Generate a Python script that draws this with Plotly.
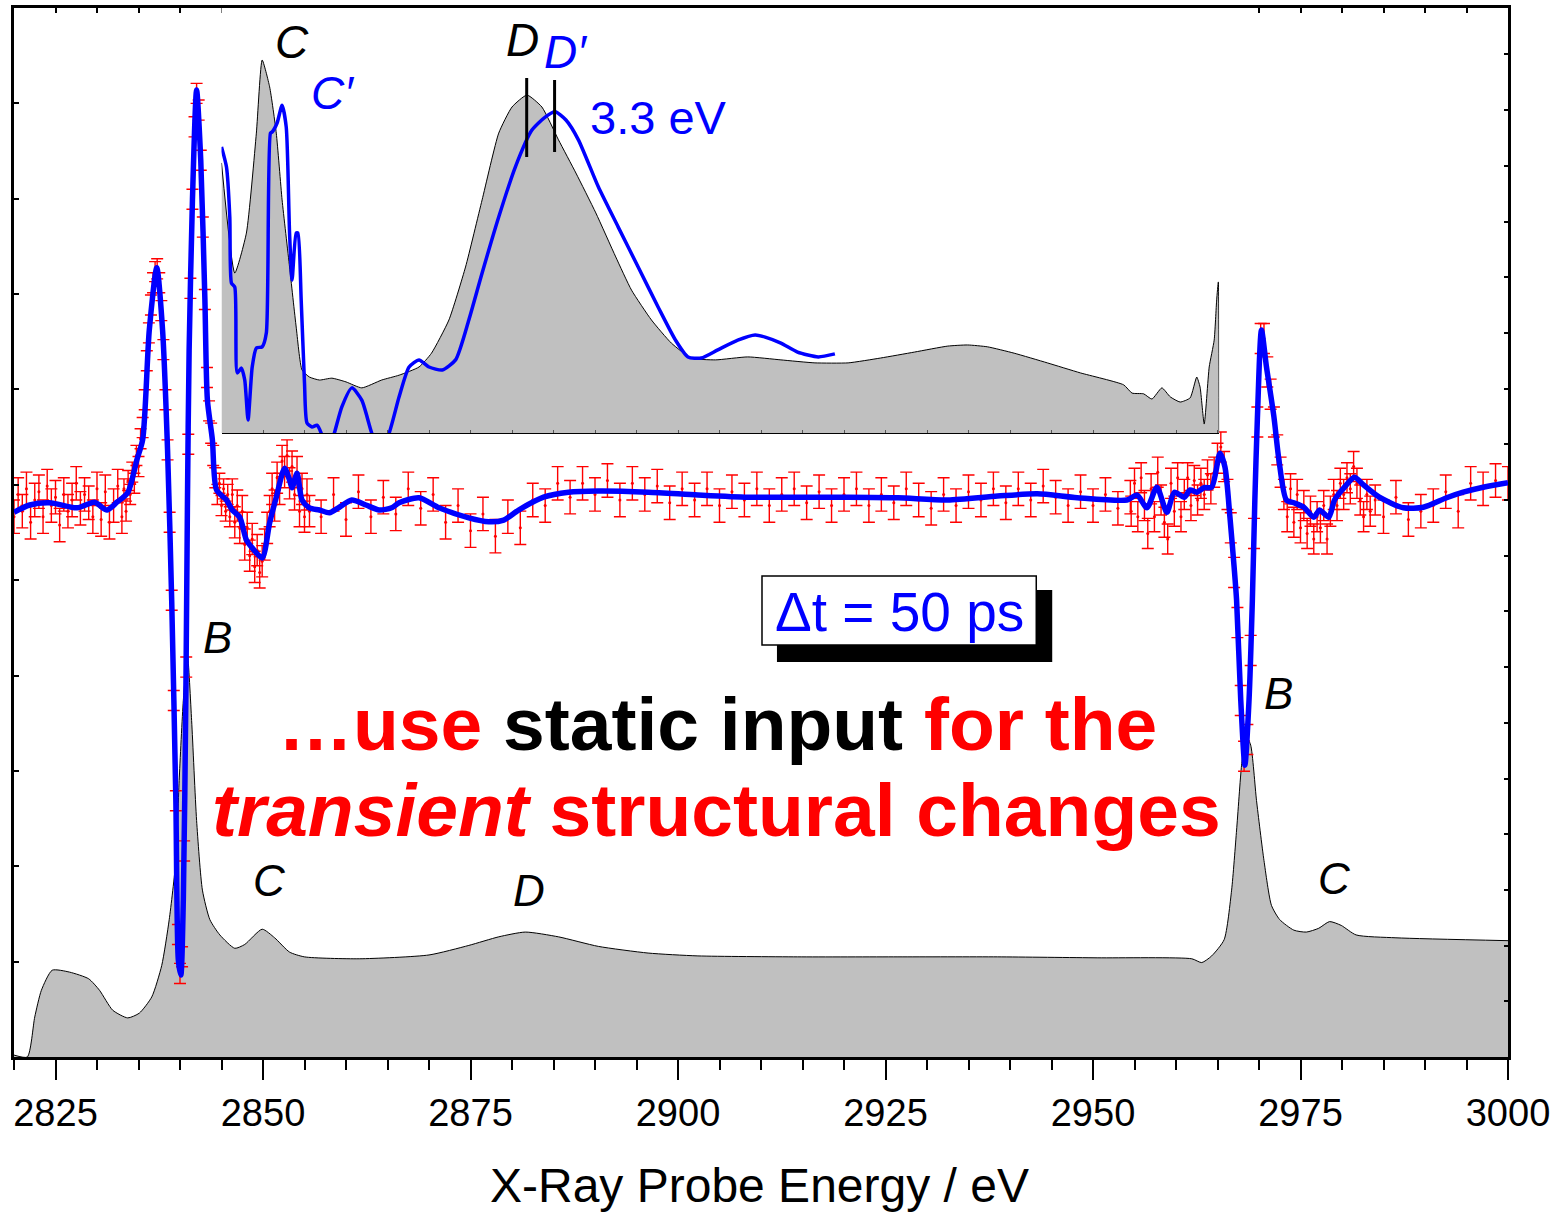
import plotly.graph_objects as go

# ---------------- data ----------------
# static spectrum (main axis, arb. units)
static_E = [2820.0, 2821.6, 2822.5, 2823.3, 2824.6, 2826.7, 2829.0, 2830.3, 2831.9, 2833.7,
            2835.1, 2836.6, 2837.8, 2838.7, 2839.5, 2839.9, 2840.4, 2840.9, 2841.4, 2842.0,
            2842.7, 2843.6, 2844.8, 2846.6, 2847.8, 2849.9, 2851.4, 2853.2, 2855.0, 2861.6,
            2870.0, 2874.8, 2878.4, 2881.6, 2885.6, 2890.4, 2896.4, 2902.4, 2914.4, 2926.5,
            2938.5, 2950.5, 2961.9, 2963.1, 2964.3, 2965.8, 2966.7, 2967.3, 2967.9, 2968.4,
            2969.0, 2969.7, 2970.6, 2971.5, 2972.5, 2974.2, 2975.7, 2977.2, 2978.5, 2979.9,
            2981.7, 2986.5, 3000.0]
static_I = [0.02, 0.0, 0.42, 0.70, 0.91, 0.89, 0.82, 0.70, 0.49, 0.41,
            0.46, 0.63, 0.96, 1.44, 2.06, 2.90, 3.74, 4.21, 3.53, 2.48,
            1.75, 1.44, 1.28, 1.14, 1.18, 1.34, 1.25, 1.10, 1.05, 1.03,
            1.07, 1.17, 1.26, 1.31, 1.26, 1.16, 1.09, 1.06, 1.05, 1.05,
            1.05, 1.04, 1.03, 0.99, 1.06, 1.23, 1.75, 2.38, 3.06, 3.38,
            3.27, 2.69, 2.06, 1.59, 1.44, 1.33, 1.31, 1.35, 1.42, 1.38,
            1.28, 1.25, 1.22]

# inset: magnified static spectrum (ground state)
inset_E = [2845.0, 2846.6, 2848.0, 2849.2, 2849.9, 2850.8, 2851.6, 2852.3, 2853.2, 2854.0,
           2854.7, 2855.6, 2856.8, 2858.3, 2860.0, 2861.9, 2864.3, 2866.4, 2868.8, 2870.3,
           2872.4, 2874.4, 2876.4, 2878.4, 2880.0, 2881.8, 2883.6, 2885.6, 2887.7, 2890.1,
           2892.5, 2894.4, 2896.8, 2899.2, 2901.6, 2904.5, 2908.4, 2912.4, 2916.5, 2920.5,
           2924.4, 2928.5, 2932.5, 2934.9, 2937.3, 2940.5, 2944.5, 2948.5, 2953.7, 2954.7,
           2956.1, 2957.1, 2958.3, 2959.3, 2960.5, 2961.7, 2962.5, 2962.9, 2963.4, 2964.0,
           2964.6, 2964.9, 2965.1, 2965.2]
inset_I = [0.724, 0.429, 0.536, 0.804, 1.000, 0.928, 0.804, 0.625, 0.445, 0.284,
           0.169, 0.150, 0.142, 0.147, 0.137, 0.121, 0.142, 0.155, 0.177, 0.214,
           0.303, 0.445, 0.625, 0.804, 0.874, 0.906, 0.874, 0.786, 0.697, 0.590,
           0.472, 0.383, 0.303, 0.241, 0.201, 0.196, 0.204, 0.196, 0.188, 0.188,
           0.201, 0.217, 0.233, 0.236, 0.231, 0.214, 0.188, 0.161, 0.129, 0.107,
           0.105, 0.091, 0.121, 0.097, 0.083, 0.094, 0.150, 0.123, 0.024, 0.177,
           0.249, 0.357, 0.405, 0.0]

# inset: excited-state spectrum (C', D')
excited_E = [2845.0, 2845.6, 2846.0, 2846.2, 2846.6, 2846.9, 2847.4, 2847.8, 2848.2, 2848.7,
             2849.2, 2849.9, 2850.4, 2850.9, 2851.1, 2851.7, 2852.3, 2852.8, 2853.2, 2853.5,
             2854.0, 2854.2, 2854.6, 2855.0, 2855.3, 2855.9, 2856.5, 2857.0, 2857.7, 2858.6,
             2859.5, 2860.7, 2861.9, 2863.1, 2864.1, 2865.2, 2866.4, 2867.6, 2868.8, 2870.0,
             2871.6, 2873.2, 2874.8, 2876.4, 2878.4, 2880.4, 2882.4, 2884.0, 2885.2, 2886.5,
             2888.0, 2890.4, 2892.8, 2895.2, 2897.6, 2899.7, 2901.2, 2902.8, 2904.8, 2907.2,
             2909.3, 2910.5, 2912.4, 2914.4, 2916.9, 2918.9]
excited_I = [0.767, 0.713, 0.579, 0.402, 0.391, 0.161, 0.174, 0.142, 0.035, 0.177,
             0.228, 0.231, 0.268, 0.804, 0.807, 0.831, 0.879, 0.820, 0.536, 0.410,
             0.536, 0.536, 0.357, 0.134, 0.027, 0.016, 0.021, 0.0, -0.06, 0.0,
             0.070, 0.121, 0.088, 0.0, -0.05, 0.0, 0.097, 0.177, 0.196, 0.177,
             0.169, 0.196, 0.303, 0.429, 0.579, 0.713, 0.812, 0.847, 0.861, 0.839,
             0.786, 0.660, 0.552, 0.445, 0.338, 0.249, 0.204, 0.201, 0.223, 0.249,
             0.263, 0.257, 0.241, 0.217, 0.204, 0.212]

# transient difference spectrum, fit (right axis)
fit_E = [2820.0, 2821.9, 2824.3, 2827.6, 2829.7, 2831.2, 2832.4, 2833.7, 2834.8, 2835.5,
         2836.3, 2837.2, 2837.9, 2838.5, 2839.0, 2839.5, 2839.8, 2840.1, 2840.4, 2840.7,
         2840.9, 2841.1, 2841.5, 2842.0, 2842.5, 2843.0, 2843.3, 2843.9, 2844.4, 2845.6,
         2846.3, 2847.2, 2848.0, 2848.7, 2849.9, 2850.8, 2851.6, 2852.6, 2853.2, 2853.5,
         2854.1, 2854.7, 2855.6, 2856.8, 2858.0, 2859.2, 2860.7, 2862.4, 2864.0, 2865.5,
         2866.4, 2868.8, 2871.2, 2874.8, 2877.2, 2879.0, 2880.8, 2883.8, 2886.8, 2890.4,
         2896.4, 2902.4, 2908.4, 2914.4, 2920.5, 2926.5, 2932.5, 2938.5, 2943.3, 2948.1,
         2954.1, 2955.3, 2956.5, 2957.7, 2958.9, 2959.8, 2961.0, 2961.7, 2962.5, 2963.4,
         2964.3, 2965.3, 2965.9, 2966.5, 2967.0, 2967.3, 2967.8, 2968.3, 2968.8, 2969.2,
         2969.5, 2969.8, 2970.3, 2970.9, 2971.8, 2972.4, 2973.3, 2974.2, 2975.4, 2976.6,
         2977.3, 2978.4, 2979.1, 2980.3, 2981.5, 2982.6, 2984.5, 2987.4, 2989.8, 2992.6,
         2994.6, 2997.0, 3000.0]
fit_T = [-0.22, -0.09, -0.05, -0.14, -0.04, -0.18, -0.04, 0.13, 0.72, 1.08,
         3.05, 4.17, 3.05, 0.90, -1.80, -5.39, -8.26, -8.53, -7.18, -3.59,
         0.0, 2.69, 5.39, 7.36, 6.10, 3.59, 1.80, 1.08, 0.18, 0.0,
         -0.18, -0.31, -0.72, -0.86, -1.04, -0.41, 0.05, 0.57, 0.36, 0.22,
         0.48, 0.0, -0.14, -0.18, -0.23, -0.13, 0.0, -0.09, -0.18, -0.14,
         -0.05, 0.04, -0.14, -0.32, -0.39, -0.36, -0.18, 0.05, 0.14, 0.16,
         0.14, 0.09, 0.05, 0.05, 0.05, 0.04, 0.0, 0.07, 0.11, 0.04,
         0.0, 0.09, -0.14, 0.23, -0.22, 0.14, 0.05, 0.18, 0.14, 0.22,
         0.23, 0.84, 0.59, -0.31, -1.20, -1.80, -3.59, -4.76, -3.59, -1.80,
         0.0, 1.44, 3.05, 2.39, 1.49, 0.72, 0.0, -0.05, -0.13, -0.31,
         -0.18, -0.31, 0.0, 0.23, 0.41, 0.27, 0.05, -0.14, -0.13, 0.04,
         0.14, 0.23, 0.31]

# transient data points with error bars
data_E_a = [2820.0, 2820.5, 2821.0, 2821.5, 2822.0, 2822.5, 2823.0, 2823.5, 2824.0, 2824.5,
            2825.0, 2825.5, 2826.0, 2826.5, 2827.0, 2827.5, 2828.0, 2828.5, 2829.0, 2829.5,
            2830.0, 2830.5, 2831.0, 2831.5, 2832.0, 2832.5, 2833.0]
data_T_a = [-0.3, 0.1, -0.2, 0.2, -0.4, 0.0, 0.15, -0.3, 0.25, -0.1,
            0.05, -0.45, 0.1, -0.2, 0.0, 0.3, -0.15, 0.1, -0.05, -0.3,
            0.2, -0.35, 0.15, -0.4, -0.1, 0.25, -0.3]
data_E_b = [2833.25, 2833.5, 2833.75, 2834.0, 2834.25, 2834.5, 2834.75, 2835.0, 2835.25, 2835.5,
            2835.75, 2836.0, 2836.25, 2836.5, 2836.75, 2837.0, 2837.25, 2837.5, 2837.75, 2838.0,
            2838.25, 2838.5, 2838.75, 2839.0, 2839.25, 2839.5, 2839.75, 2840.0, 2840.25, 2840.5,
            2840.75, 2841.0, 2841.25, 2841.5, 2841.75, 2842.0, 2842.25, 2842.5, 2842.75, 2843.0,
            2843.25, 2843.5, 2843.75, 2844.0, 2844.25, 2844.5, 2844.75, 2845.0, 2845.25, 2845.5,
            2845.75, 2846.0]
data_T_b = [0.2, -0.2, 0.35, 0.1, 0.5, 0.3, 0.8, 0.6, 1.1, 1.3,
            1.8, 2.5, 3.0, 3.5, 3.9, 4.1, 4.15, 3.9, 3.4, 2.7,
            1.8, 0.9, -0.4, -1.8, -3.6, -5.4, -7.8, -8.5, -8.2, -6.3,
            -3.0, 1.0, 3.8, 5.4, 6.7, 7.3, 7.0, 6.1, 4.9, 3.6,
            2.2, 1.6, 1.2, 0.8, 0.4, 0.1, 0.3, -0.1, 0.2, -0.2,
            0.1, -0.3]
data_E_c = [2846.3, 2846.6, 2846.9, 2847.2, 2847.5, 2847.8, 2848.1, 2848.4, 2848.7, 2849.0,
            2849.3, 2849.6, 2849.9, 2850.2, 2850.5, 2850.8, 2851.1, 2851.4, 2851.7, 2852.0,
            2852.3, 2852.6, 2852.9, 2853.2, 2853.5, 2853.8, 2854.1, 2854.4, 2854.7, 2855.0,
            2855.3, 2855.6]
data_T_c = [0.1, -0.4, -0.1, -0.5, -0.2, -0.8, -0.5, -1.0, -0.7, -1.2,
            -0.9, -1.3, -1.1, -0.8, -0.5, -0.2, 0.2, -0.1, 0.4, 0.2,
            0.7, 0.5, 0.8, 0.3, 0.6, 0.1, 0.5, -0.2, 0.2, -0.3,
            0.1, -0.2]
data_E_d = [2857, 2858.5, 2860, 2861.5, 2863, 2864.5, 2866, 2867.5, 2869, 2870.5,
            2872, 2873.5, 2875, 2876.5, 2878, 2879.5, 2881, 2882.5, 2884, 2885.5,
            2887, 2888.5, 2890, 2891.5, 2893, 2894.5, 2896, 2897.5, 2899, 2900.5,
            2902, 2903.5, 2905, 2906.5, 2908, 2909.5, 2911, 2912.5, 2914, 2915.5,
            2917, 2918.5, 2920, 2921.5, 2923, 2924.5, 2926, 2927.5, 2929, 2930.5,
            2932, 2933.5, 2935, 2936.5, 2938, 2939.5, 2941, 2942.5, 2944, 2945.5,
            2947, 2948.5, 2950, 2951.5, 2953, 2954.5]
data_T_d = [-0.3, 0.1, -0.35, 0.15, -0.3, 0.05, -0.25, 0.2, -0.15, 0.1,
            -0.4, -0.1, -0.55, -0.25, -0.65, -0.3, -0.5, 0.0, -0.1, 0.3,
            0.05, 0.3, 0.1, 0.35, 0.0, 0.3, 0.1, 0.25, -0.05, 0.2,
            0.0, 0.2, -0.1, 0.15, 0.0, 0.2, -0.1, 0.1, 0.2, -0.05,
            0.15, -0.1, 0.1, 0.2, -0.1, 0.1, -0.05, 0.2, 0.0, -0.15,
            0.1, -0.1, 0.15, 0.0, 0.2, -0.05, 0.2, 0.0, 0.25, 0.05,
            -0.1, 0.15, -0.1, 0.1, -0.15, 0.05]
data_E_e = [2954.6, 2955.0, 2955.4, 2955.8, 2956.2, 2956.6, 2957.0, 2957.4, 2957.8, 2958.2,
            2958.6, 2959.0, 2959.4, 2959.8, 2960.2, 2960.6, 2961.0, 2961.4, 2961.8, 2962.2,
            2962.6, 2963.0, 2963.4, 2963.8, 2964.2, 2964.6, 2965.0, 2965.4, 2965.8, 2966.2,
            2966.6, 2967.0, 2967.4, 2967.8, 2968.2, 2968.6, 2969.0, 2969.4, 2969.8, 2970.2,
            2970.6, 2971.0, 2971.4, 2971.8, 2972.2, 2972.6, 2973.0, 2973.4, 2973.8, 2974.2,
            2974.6, 2975.0, 2975.4, 2975.8, 2976.2, 2976.6, 2977.0, 2977.4, 2977.8, 2978.2,
            2978.6, 2979.0, 2979.4, 2979.8, 2980.2, 2980.6, 2981.0, 2981.4, 2981.8, 2982.2,
            2982.6, 2983.0, 2983.4, 2984.0]
data_T_e = [-0.2, 0.3, -0.3, 0.4, -0.1, -0.6, 0.2, -0.3, 0.5, 0.0,
            -0.4, -0.7, 0.3, -0.2, 0.4, -0.3, 0.1, 0.4, -0.1, 0.35,
            0.0, 0.3, 0.1, 0.45, 0.2, 0.5, 0.75, 0.95, 0.6, 0.1,
            -0.5, -1.3, -2.2, -3.6, -4.6, -4.3, -2.7, -0.6, 1.4, 2.9,
            2.9, 2.3, 1.9, 1.4, 0.9, 0.5, 0.1, -0.3, 0.2, -0.4,
            0.1, -0.5, -0.1, -0.6, -0.2, -0.7, -0.3, -0.5, -0.1, -0.7,
            -0.2, 0.1, -0.1, 0.3, 0.1, 0.4, 0.2, 0.6, 0.3, 0.0,
            -0.3, 0.1, -0.2, 0.0]
data_E_f = [2985, 2986.5, 2988, 2989.5, 2991, 2992.5, 2994, 2995.5, 2997, 2998.5, 3000]
data_T_f = [-0.3, 0.05, -0.35, -0.2, -0.1, 0.15, -0.2, 0.3, 0.2, 0.35, 0.3]
err_a, err_b, err_c, err_d, err_e, err_f = 0.3, 0.18, 0.28, 0.3, 0.27, 0.3

data_E = data_E_a + data_E_b + data_E_c + data_E_d + data_E_e + data_E_f
data_T = data_T_a + data_T_b + data_T_c + data_T_d + data_T_e + data_T_f
data_err = ([err_a] * len(data_E_a) + [err_b] * len(data_E_b) + [err_c] * len(data_E_c)
            + [err_d] * len(data_E_d) + [err_e] * len(data_E_e) + [err_f] * len(data_E_f))

x_ticks = [2825, 2850, 2875, 2900, 2925, 2950, 2975, 3000]

# ---------------- layout geometry ----------------
W, H = 1558, 1212
ML, MR, MT, MB = 14, 46, 8, 155
PW = W - ML - MR
PH = H - MT - MB
FONT = "Liberation Sans, Arial, sans-serif"
BLUE = "#0000ff"
RED = "#ff0000"


def px(x):
    return (x - ML) / PW


def py(y):
    return (H - MB - y) / PH


fig = go.Figure()

# static spectrum (main)
fig.add_trace(go.Scatter(
    x=static_E, y=static_I, mode="lines", xaxis="x", yaxis="y",
    line=dict(color="black", width=1, shape="spline", smoothing=0.6),
    fill="tozeroy", fillcolor="#c0c0c0", hoverinfo="skip", showlegend=False))

# transient data with error bars
fig.add_trace(go.Scatter(
    x=data_E, y=data_T, mode="markers", xaxis="x", yaxis="y2",
    marker=dict(color=RED, size=3),
    error_y=dict(type="data", array=data_err, visible=True, color=RED,
                 thickness=1.4, width=6),
    hoverinfo="skip", showlegend=False))

# transient fit
fig.add_trace(go.Scatter(
    x=fit_E, y=fit_T, mode="lines", xaxis="x", yaxis="y2",
    line=dict(color=BLUE, width=5.5, shape="spline", smoothing=0.7),
    hoverinfo="skip", showlegend=False))

# helper trace for top axis
fig.add_trace(go.Scatter(x=[2820], y=[0], mode="markers", xaxis="x3", yaxis="y",
                         marker=dict(opacity=0), hoverinfo="skip", showlegend=False))

# inset
fig.add_trace(go.Scatter(
    x=inset_E, y=inset_I, mode="lines", xaxis="x2", yaxis="y3",
    line=dict(color="black", width=1, shape="spline", smoothing=0.5),
    fill="tozeroy", fillcolor="#c0c0c0", hoverinfo="skip", showlegend=False))
fig.add_trace(go.Scatter(
    x=excited_E, y=excited_I, mode="lines", xaxis="x2", yaxis="y3",
    line=dict(color=BLUE, width=3.5, shape="spline", smoothing=0.6),
    hoverinfo="skip", showlegend=False))

XR = [2820, 3000]
fig.update_layout(
    width=W, height=H,
    margin=dict(l=ML, r=MR, t=MT, b=MB, pad=0),
    paper_bgcolor="white", plot_bgcolor="white",
    font=dict(family=FONT, color="black"),
    xaxis=dict(range=XR, domain=[0, 1], anchor="y", tickmode="array", tickvals=x_ticks,
               ticktext=[str(t) for t in x_ticks],
               ticks="outside", ticklen=20, tickwidth=2, tickcolor="black",
               minor=dict(dtick=5, tick0=2820, ticks="outside", ticklen=10, tickwidth=2,
                          tickcolor="black", showgrid=False),
               showline=True, linewidth=3, linecolor="black",
               showgrid=False, zeroline=False, tickfont=dict(size=38, family=FONT)),
    xaxis3=dict(range=XR, overlaying="x", side="top", anchor="y", dtick=5, tick0=2820,
                ticks="inside", ticklen=5, tickwidth=1.5, tickcolor="black",
                showticklabels=False, showline=True, linewidth=3, linecolor="black",
                showgrid=False, zeroline=False),
    yaxis=dict(range=[0, 11], domain=[0, 1], dtick=1, tick0=0, ticks="inside", ticklen=5,
               tickwidth=1.5, tickcolor="black", showticklabels=False,
               showline=True, linewidth=3, linecolor="black", showgrid=False, zeroline=False),
    yaxis2=dict(range=[-10.0, 8.833], overlaying="y", side="right", anchor="x", dtick=1,
                tick0=0, ticks="inside", ticklen=4, tickwidth=1.5, tickcolor="black",
                showticklabels=False, showline=True, linewidth=3, linecolor="black",
                showgrid=False, zeroline=False),
    xaxis2=dict(range=[2845, 2965.2], domain=[(2845 - 2820) / 180, (2965.2 - 2820) / 180],
                anchor="y3", dtick=5, tick0=2845, ticks="inside", ticklen=3, tickwidth=1,
                tickcolor="#555555", showticklabels=False, showline=True, linewidth=1,
                linecolor="black", showgrid=False, zeroline=False),
    yaxis3=dict(range=[0, (433 - 8) / 373], domain=[py(433), 1], anchor="x2",
                visible=False, showgrid=False, zeroline=False),
)

# marker lines for D and D'
shapes = [
    dict(type="line", xref="x", yref="paper", x0=2881.77, x1=2881.77, y0=py(78), y1=py(157),
         line=dict(color="black", width=3)),
    dict(type="line", xref="x", yref="paper", x0=2885.13, x1=2885.13, y0=py(80), y1=py(152),
         line=dict(color="black", width=3)),
    # box shadow and box
    dict(type="rect", xref="paper", yref="paper", x0=px(779), x1=px(1055), y0=py(662), y1=py(590),
         fillcolor="black", line=dict(width=0)),
    dict(type="rect", xref="paper", yref="paper", x0=px(764), x1=px(1039), y0=py(645), y1=py(576),
         fillcolor="white", line=dict(color="black", width=1.5)),
]
fig.update_layout(shapes=shapes)


def ann(text, x, y, size, color="black", italic=False, bold=False):
    t = text
    if bold:
        t = "<b>" + t + "</b>"
    if italic:
        t = "<i>" + t + "</i>"
    return dict(text=t, x=px(x), y=py(y), xref="paper", yref="paper",
                xanchor="center", yanchor="middle", showarrow=False,
                font=dict(size=size, color=color, family=FONT))


annotations = [
    ann("C", 293, 42, 46, italic=True),
    ann("C\u2032", 333, 93, 46, color=BLUE, italic=True),
    ann("D", 524, 40, 46, italic=True),
    ann("D\u2032", 567, 52, 46, color=BLUE, italic=True),
    ann("3.3 eV", 660, 117, 47, color=BLUE),
    ann("B", 218, 638, 44, italic=True),
    ann("B", 1282, 693, 44, italic=True),
    ann("C", 270, 880, 44, italic=True),
    ann("D", 530, 890, 44, italic=True),
    ann("C", 1338, 878, 44, italic=True),
    ann("\u0394t = 50 ps", 902, 612, 55, color=BLUE),
    ann("<span style='color:#ff0000'>\u2026use</span> static input "
        "<span style='color:#ff0000'>for the</span>", 719, 724, 75, bold=True),
    ann("<i>transient</i> structural changes", 718, 810, 75, color=RED, bold=True),
    ann("X-Ray Probe Energy / eV", 761, 1185, 48),
]
fig.update_layout(annotations=annotations)

fig.write_html("out.html")
